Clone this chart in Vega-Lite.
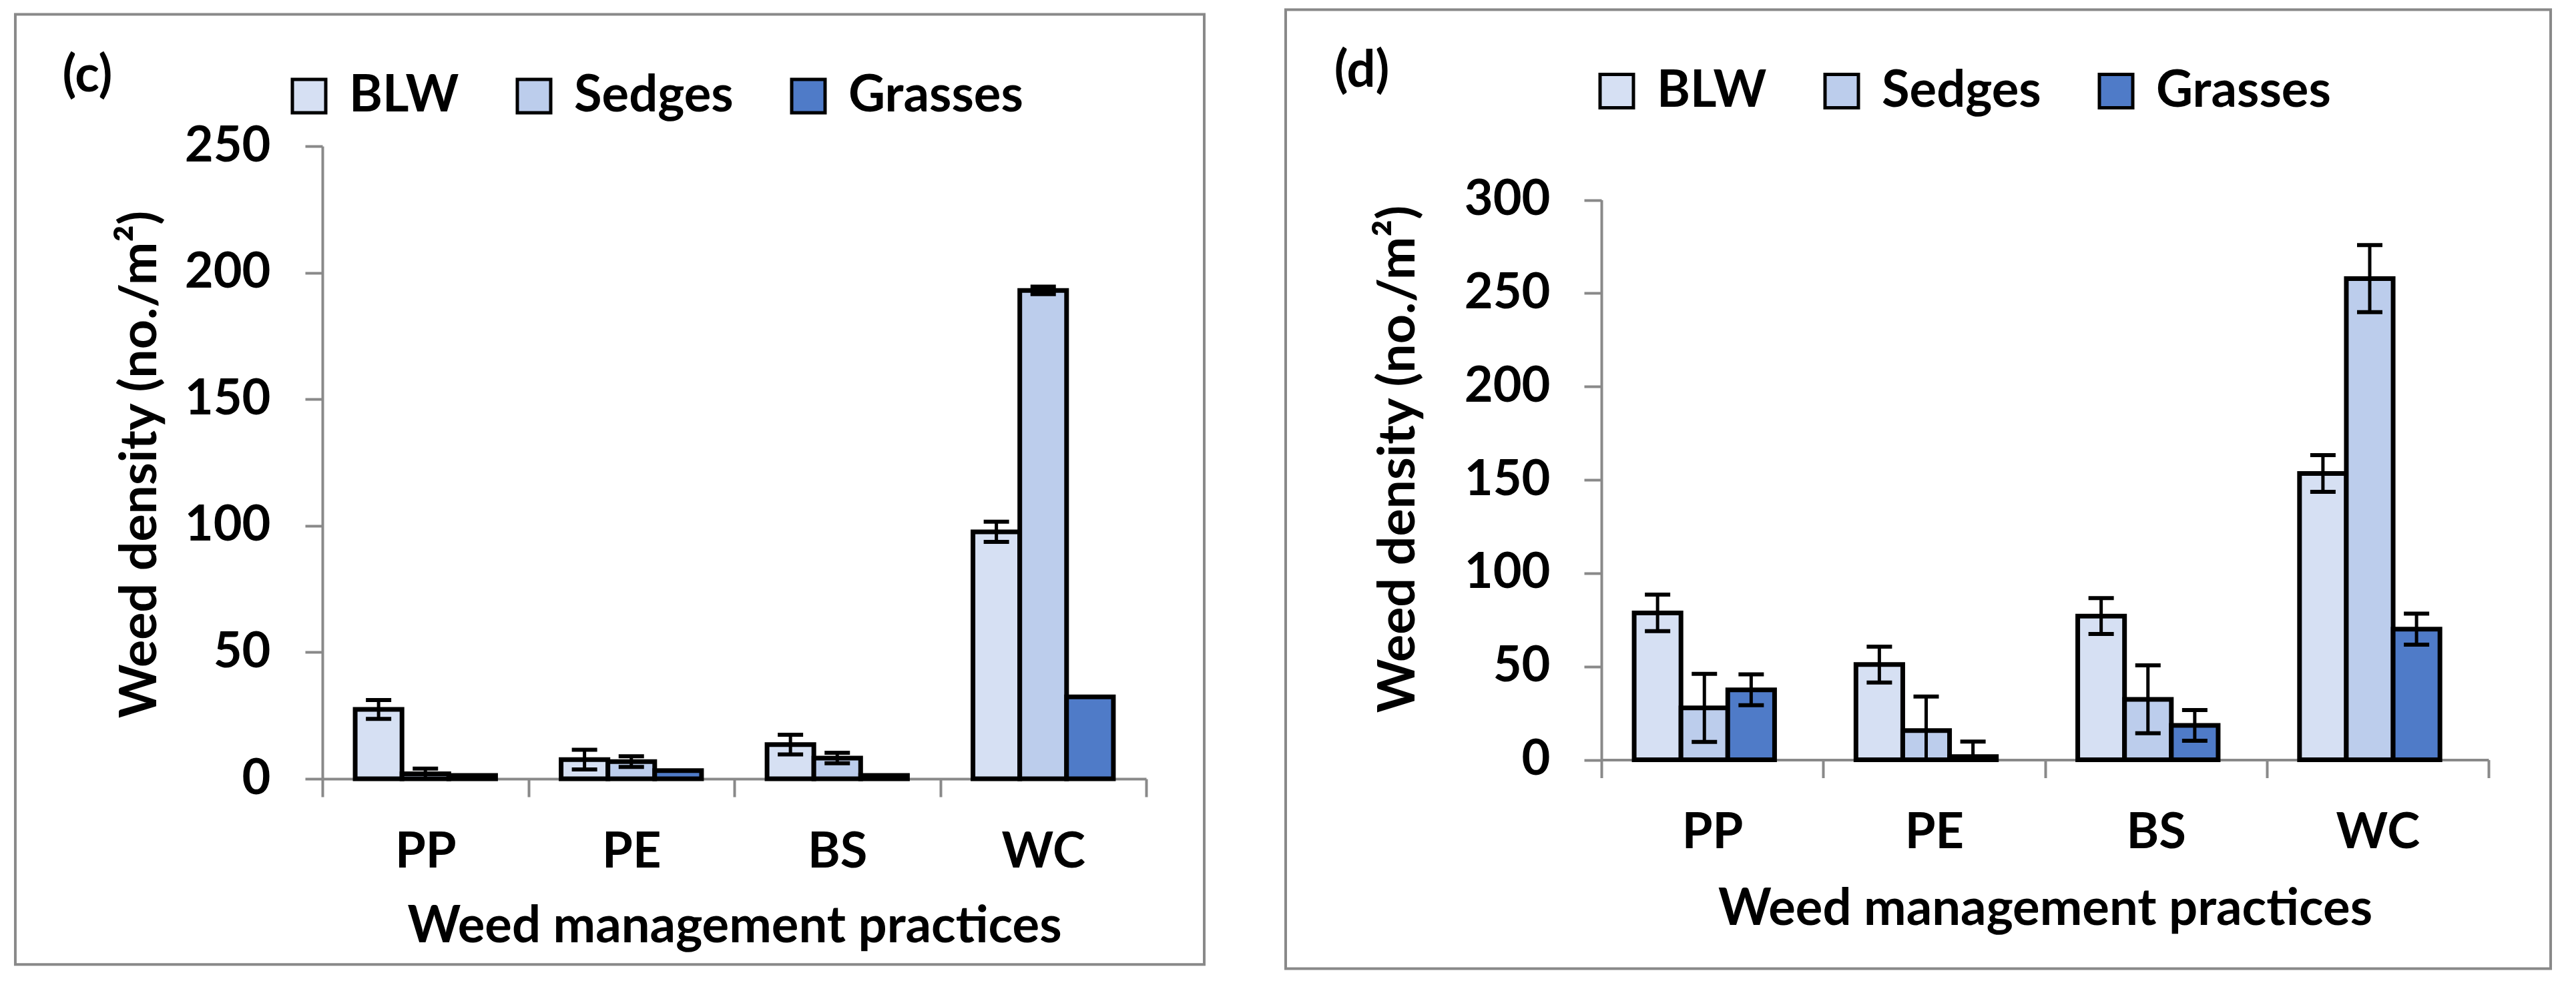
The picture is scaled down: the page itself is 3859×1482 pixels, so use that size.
{
  "$schema": "https://vega.github.io/schema/vega-lite/v6.json",
  "background": "#ffffff",
  "padding": {"left": 20, "top": 12, "right": 0, "bottom": 0},
  "datasets": {
    "panel_c": [
      {"practice": "PP", "weed": "BLW", "value": 27.4, "lo": 23.7, "hi": 31.1},
      {"practice": "PP", "weed": "Sedges", "value": 2.0, "lo": 0, "hi": 4.0},
      {"practice": "PP", "weed": "Grasses", "value": 1.3, "lo": null, "hi": null},
      {"practice": "PE", "weed": "BLW", "value": 7.6, "lo": 3.7, "hi": 11.5},
      {"practice": "PE", "weed": "Sedges", "value": 6.8, "lo": 4.7, "hi": 8.9},
      {"practice": "PE", "weed": "Grasses", "value": 3.2, "lo": null, "hi": null},
      {"practice": "BS", "weed": "BLW", "value": 13.5, "lo": 9.6, "hi": 17.4},
      {"practice": "BS", "weed": "Sedges", "value": 8.2, "lo": 6.1, "hi": 10.3},
      {"practice": "BS", "weed": "Grasses", "value": 1.3, "lo": null, "hi": null},
      {"practice": "WC", "weed": "BLW", "value": 97.6, "lo": 93.6, "hi": 101.6},
      {"practice": "WC", "weed": "Sedges", "value": 193.0, "lo": 191.5, "hi": 194.5},
      {"practice": "WC", "weed": "Grasses", "value": 32.4, "lo": null, "hi": null}
    ],
    "panel_d": [
      {"practice": "PP", "weed": "BLW", "value": 78.7, "lo": 68.9, "hi": 88.5},
      {"practice": "PP", "weed": "Sedges", "value": 27.8, "lo": 9.6, "hi": 46.0},
      {"practice": "PP", "weed": "Grasses", "value": 37.5, "lo": 29.2, "hi": 45.8},
      {"practice": "PE", "weed": "BLW", "value": 51.0, "lo": 41.4, "hi": 60.6},
      {"practice": "PE", "weed": "Sedges", "value": 15.6, "lo": 0, "hi": 33.9},
      {"practice": "PE", "weed": "Grasses", "value": 1.7, "lo": 0, "hi": 9.7},
      {"practice": "BS", "weed": "BLW", "value": 77.0, "lo": 67.4, "hi": 86.6},
      {"practice": "BS", "weed": "Sedges", "value": 32.4, "lo": 14.2, "hi": 50.6},
      {"practice": "BS", "weed": "Grasses", "value": 18.4, "lo": 10.2, "hi": 26.6},
      {"practice": "WC", "weed": "BLW", "value": 153.4, "lo": 143.6, "hi": 163.2},
      {"practice": "WC", "weed": "Sedges", "value": 257.8, "lo": 239.8, "hi": 275.8},
      {"practice": "WC", "weed": "Grasses", "value": 70.0, "lo": 61.7, "hi": 78.3}
    ]
  },
  "spacing": 118,
  "hconcat": [
    {
      "width": 1234,
      "height": 948,
      "layer": [
        {
          "data": {"values": [{}]},
          "layer": [
            {
              "mark": {"type": "rect", "fill": "transparent", "stroke": "#898989", "strokeWidth": 4},
              "encoding": {
                "x": {"datum": -0.3728, "type": "quantitative", "scale": {"domain": [0, 1]}, "axis": null},
                "x2": {"datum": 1.0705},
                "y": {
                  "datum": 302.1, "type": "quantitative", "scale": {"domain": [0, 250], "nice": false},
                  "axis": {"title": "Weed density (no./m²)", "values": [0, 50, 100, 150, 200, 250], "labelPadding": 52, "titleX": -250, "titleY": 476.5}
                },
                "y2": {"datum": -73.35}
              }
            },
            {
              "mark": {"type": "text", "text": "(c)", "fontSize": 76, "fontWeight": "bold", "align": "center", "baseline": "middle", "color": "black"},
              "encoding": {
                "x": {"datum": -0.2853, "type": "quantitative"},
                "y": {"datum": 277.8, "type": "quantitative"}
              }
            }
          ]
        },
        {
          "data": {"name": "panel_c"},
          "encoding": {
            "x": {
              "field": "practice", "type": "nominal", "sort": ["PP", "PE", "BS", "WC"],
              "scale": {"paddingInner": 0, "paddingOuter": 0},
              "axis": {"orient": "bottom", "title": "Weed management practices", "labelPadding": 47, "titleY": 244}
            },
            "xOffset": {"field": "weed", "type": "nominal", "sort": ["BLW", "Sedges", "Grasses"], "scale": {"paddingInner": 0, "paddingOuter": 0.7}}
          },
          "layer": [
            {
              "mark": {"type": "bar", "stroke": "black", "strokeWidth": 7},
              "encoding": {
                "y": {
                  "field": "value", "type": "quantitative",
                  "scale": {"domain": [0, 250], "nice": false},
                  "axis": {"title": "Weed density (no./m²)", "values": [0, 50, 100, 150, 200, 250], "labelPadding": 52, "titleX": -250, "titleY": 476.5}
                },
                "color": {
                  "field": "weed", "type": "nominal", "sort": ["BLW", "Sedges", "Grasses"],
                  "scale": {"domain": ["BLW", "Sedges", "Grasses"], "range": ["#d6e0f3", "#bccdec", "#4f7bc8"]},
                  "legend": {"orient": "none", "legendX": -58, "legendY": -113, "direction": "horizontal"}
                }
              }
            },
            {
              "transform": [{"filter": "datum.hi != null"}],
              "mark": {"type": "rule", "color": "black", "strokeWidth": 5},
              "encoding": {"y": {"field": "lo", "type": "quantitative"}, "y2": {"field": "hi"}}
            },
            {
              "transform": [{"filter": "datum.hi != null"}],
              "mark": {"type": "tick", "color": "black", "thickness": 6, "size": 38, "opacity": 1},
              "encoding": {"y": {"field": "hi", "type": "quantitative"}}
            },
            {
              "transform": [{"filter": "datum.lo > 0"}],
              "mark": {"type": "tick", "color": "black", "thickness": 6, "size": 38, "opacity": 1},
              "encoding": {"y": {"field": "lo", "type": "quantitative"}}
            }
          ]
        }
      ],
      "resolve": {"scale": {"x": "independent"}, "axis": {"x": "independent"}}
    },
    {
      "width": 1329,
      "height": 919.5,
      "layer": [
        {
          "data": {"values": [{}]},
          "layer": [
            {
              "mark": {"type": "rect", "fill": "transparent", "stroke": "#898989", "strokeWidth": 4},
              "encoding": {
                "x": {"datum": -0.3559, "type": "quantitative", "scale": {"domain": [0, 1]}, "axis": null},
                "x2": {"datum": 1.07},
                "y": {
                  "datum": 401.9, "type": "quantitative", "scale": {"domain": [0, 300], "range": [919.5, 80.5], "nice": false},
                  "axis": {"title": "Weed density (no./m²)", "values": [0, 50, 100, 150, 200, 250, 300], "labelPadding": 51, "titleX": -281, "titleY": 468.5}
                },
                "y2": {"datum": -111.9}
              }
            },
            {
              "mark": {"type": "text", "text": "(d)", "fontSize": 76, "fontWeight": "bold", "align": "center", "baseline": "middle", "color": "black"},
              "encoding": {
                "x": {"datum": -0.2701, "type": "quantitative"},
                "y": {"datum": 369.0, "type": "quantitative"}
              }
            }
          ]
        },
        {
          "data": {"name": "panel_d"},
          "encoding": {
            "x": {
              "field": "practice", "type": "nominal", "sort": ["PP", "PE", "BS", "WC"],
              "scale": {"paddingInner": 0, "paddingOuter": 0},
              "axis": {"orient": "bottom", "title": "Weed management practices", "labelPadding": 47, "titleY": 247}
            },
            "xOffset": {"field": "weed", "type": "nominal", "sort": ["BLW", "Sedges", "Grasses"], "scale": {"paddingInner": 0, "paddingOuter": 0.7}}
          },
          "layer": [
            {
              "mark": {"type": "bar", "stroke": "black", "strokeWidth": 7},
              "encoding": {
                "y": {
                  "field": "value", "type": "quantitative",
                  "scale": {"domain": [0, 300], "range": [919.5, 80.5], "nice": false},
                  "axis": {"title": "Weed density (no./m²)", "values": [0, 50, 100, 150, 200, 250, 300], "labelPadding": 51, "titleX": -281, "titleY": 468.5}
                },
                "color": {
                  "field": "weed", "type": "nominal", "sort": ["BLW", "Sedges", "Grasses"],
                  "scale": {"domain": ["BLW", "Sedges", "Grasses"], "range": ["#d6e0f3", "#bccdec", "#4f7bc8"]},
                  "legend": {"orient": "none", "legendX": -15, "legendY": -120.5, "direction": "horizontal"}
                }
              }
            },
            {
              "transform": [{"filter": "datum.hi != null"}],
              "mark": {"type": "rule", "color": "black", "strokeWidth": 5},
              "encoding": {"y": {"field": "lo", "type": "quantitative"}, "y2": {"field": "hi"}}
            },
            {
              "transform": [{"filter": "datum.hi != null"}],
              "mark": {"type": "tick", "color": "black", "thickness": 6, "size": 38, "opacity": 1},
              "encoding": {"y": {"field": "hi", "type": "quantitative"}}
            },
            {
              "transform": [{"filter": "datum.lo > 0"}],
              "mark": {"type": "tick", "color": "black", "thickness": 6, "size": 38, "opacity": 1},
              "encoding": {"y": {"field": "lo", "type": "quantitative"}}
            }
          ]
        }
      ],
      "resolve": {"scale": {"x": "independent"}, "axis": {"x": "independent"}}
    }
  ],
  "resolve": {"scale": {"color": "independent"}, "legend": {"color": "independent"}},
  "config": {
    "font": "Lato",
    "view": {"stroke": null},
    "bar": {"opacity": 1},
    "axis": {
      "grid": false,
      "domainColor": "#898989",
      "domainWidth": 4,
      "tickColor": "#898989",
      "tickWidth": 4,
      "tickSize": 26,
      "labelFont": "Lato",
      "labelFontSize": 74,
      "labelFontWeight": "bold",
      "labelColor": "#000000",
      "labelAngle": 0,
      "labelLimit": 0,
      "titleFont": "Lato",
      "titleFontWeight": "bold",
      "titleColor": "#000000",
      "titleLimit": 0
    },
    "axisX": {
      "tickBand": "extent",
      "tickSize": 27,
      "titleFontSize": 76,
      "titleBaseline": "alphabetic",
      "labelBaseline": "top"
    },
    "axisY": {
      "titleFontSize": 77,
      "titleAngle": -90,
      "titleAlign": "center",
      "titleBaseline": "alphabetic"
    },
    "legend": {
      "title": null,
      "padding": 0,
      "symbolType": "square",
      "symbolSize": 2500,
      "symbolStrokeColor": "#000000",
      "symbolStrokeWidth": 5,
      "symbolOpacity": 1,
      "labelFont": "Lato",
      "labelFontSize": 76,
      "labelFontWeight": "bold",
      "labelColor": "#000000",
      "labelOffset": 22,
      "labelLimit": 0,
      "columnPadding": 74
    },
    "text": {"font": "Lato"}
  }
}
